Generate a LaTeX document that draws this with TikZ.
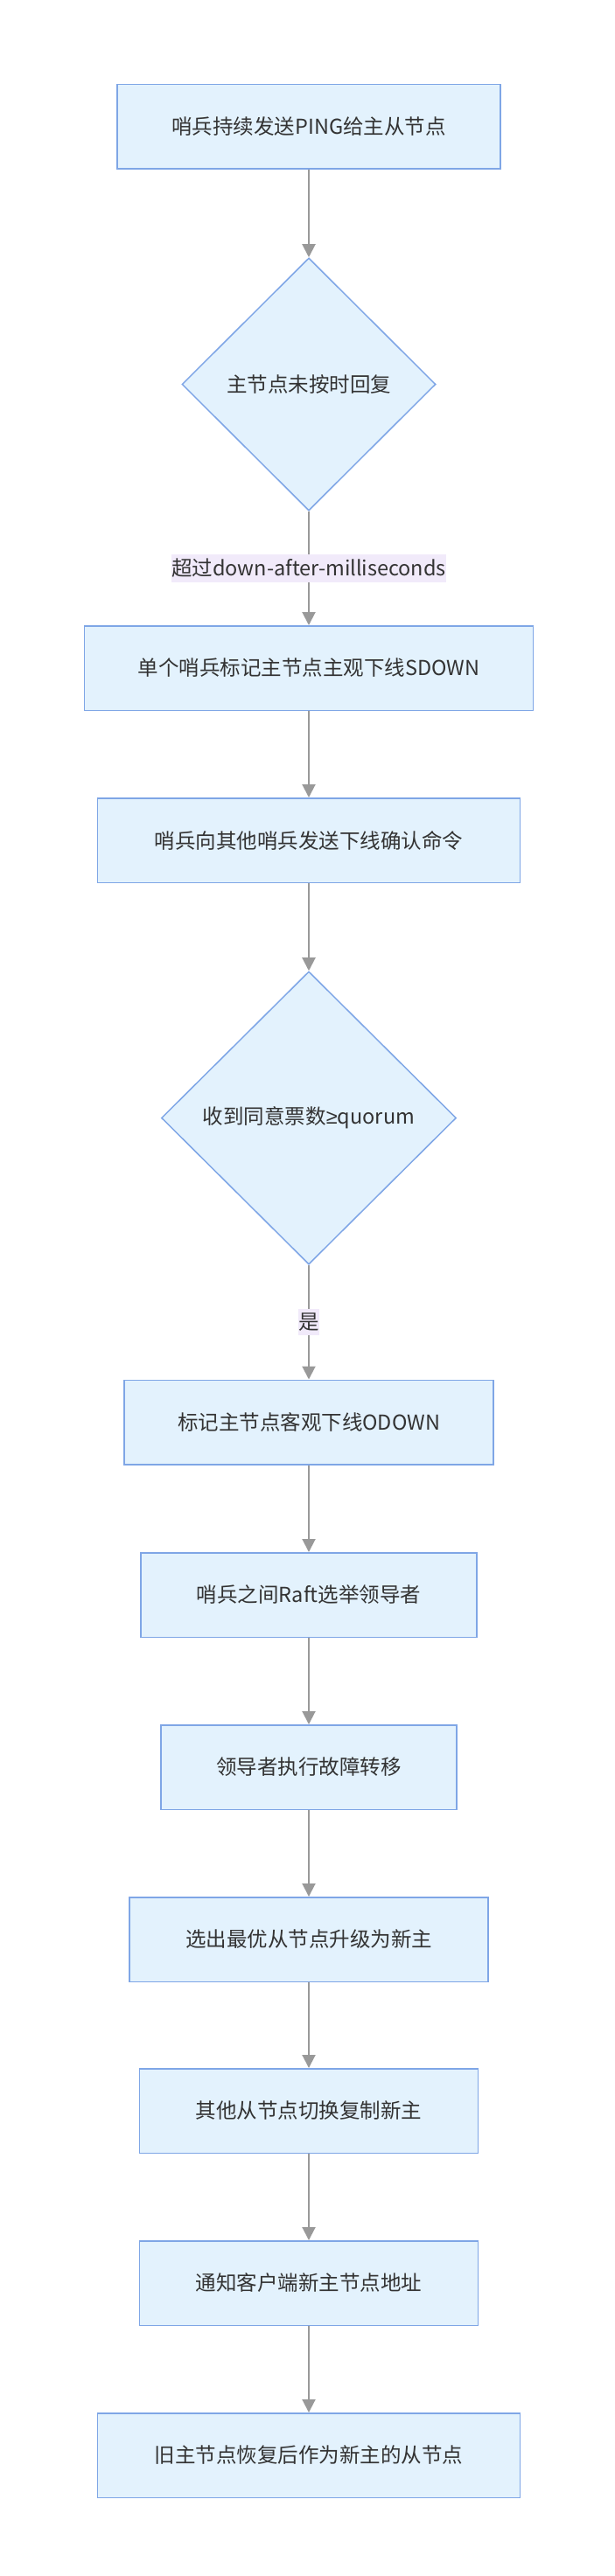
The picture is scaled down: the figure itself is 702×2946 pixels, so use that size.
\documentclass[tikz,border=0pt]{standalone}
\usepackage{fontspec}
\setmainfont{Noto Sans CJK SC}
\newfontfamily\geqfont{Liberation Sans}
\usetikzlibrary{shapes.geometric,arrows.meta}
\definecolor{boxfill}{HTML}{E3F2FD}
\definecolor{boxline}{HTML}{7FA6E6}
\definecolor{edgegray}{HTML}{999999}
\definecolor{lblbg}{HTML}{F1EAFA}
\definecolor{txt}{HTML}{333333}
\begin{document}
\begin{tikzpicture}[x=1pt,y=-1pt,
  lbl/.style={text=txt,font=\fontsize{23.5}{28}\selectfont},
  procbox/.style={lbl,draw=boxline,fill=boxfill,line width=1.5pt,minimum height=96.5pt,inner sep=0pt},
  decision/.style={lbl,diamond,draw=boxline,fill=boxfill,line width=1.5pt,inner sep=0pt},
  flow/.style={draw=edgegray,line width=2pt,-{Triangle[length=15pt,width=15pt,fill=edgegray]}},
  elabel/.style={lbl,fill=lblbg,inner xsep=0pt,inner ysep=5pt}]
\useasboundingbox (0,0) rectangle (702,2946);
\node[procbox,minimum width=438pt] (b1) at (353,145) {哨兵持续发送PING给主从节点};
\node[decision,minimum width=290pt,minimum height=289pt] (d1) at (353,439.5) {主节点未按时回复};
\node[procbox,minimum width=513pt] (b2) at (353,764) {单个哨兵标记主节点主观下线SDOWN};
\node[procbox,minimum width=483pt] (b3) at (353,961) {哨兵向其他哨兵发送下线确认命令};
\node[decision,minimum width=337pt,minimum height=335pt] (d2) at (353,1278.5) {收到同意票数{\geqfont ≥}quorum};
\node[procbox,minimum width=422pt] (b4) at (353,1626.5) {标记主节点客观下线ODOWN};
\node[procbox,minimum width=384pt] (b5) at (353,1824) {哨兵之间Raft选举领导者};
\node[procbox,minimum width=338pt] (b6) at (353,2021) {领导者执行故障转移};
\node[procbox,minimum width=410pt] (b7) at (353,2218) {选出最优从节点升级为新主};
\node[procbox,minimum width=387pt] (b8) at (353,2414) {其他从节点切换复制新主};
\node[procbox,minimum width=387pt] (b9) at (353,2611) {通知客户端新主节点地址};
\node[procbox,minimum width=483pt] (b10) at (353,2808) {旧主节点恢复后作为新主的从节点};
\draw[flow] (b1) -- (d1);
\draw[flow] (d1) -- node[elabel] {超过down-after-milliseconds} (b2);
\draw[flow] (b2) -- (b3);
\draw[flow] (b3) -- (d2);
\draw[flow] (d2) -- node[elabel] {是} (b4);
\draw[flow] (b4) -- (b5);
\draw[flow] (b5) -- (b6);
\draw[flow] (b6) -- (b7);
\draw[flow] (b7) -- (b8);
\draw[flow] (b8) -- (b9);
\draw[flow] (b9) -- (b10);
\end{tikzpicture}
\end{document}
